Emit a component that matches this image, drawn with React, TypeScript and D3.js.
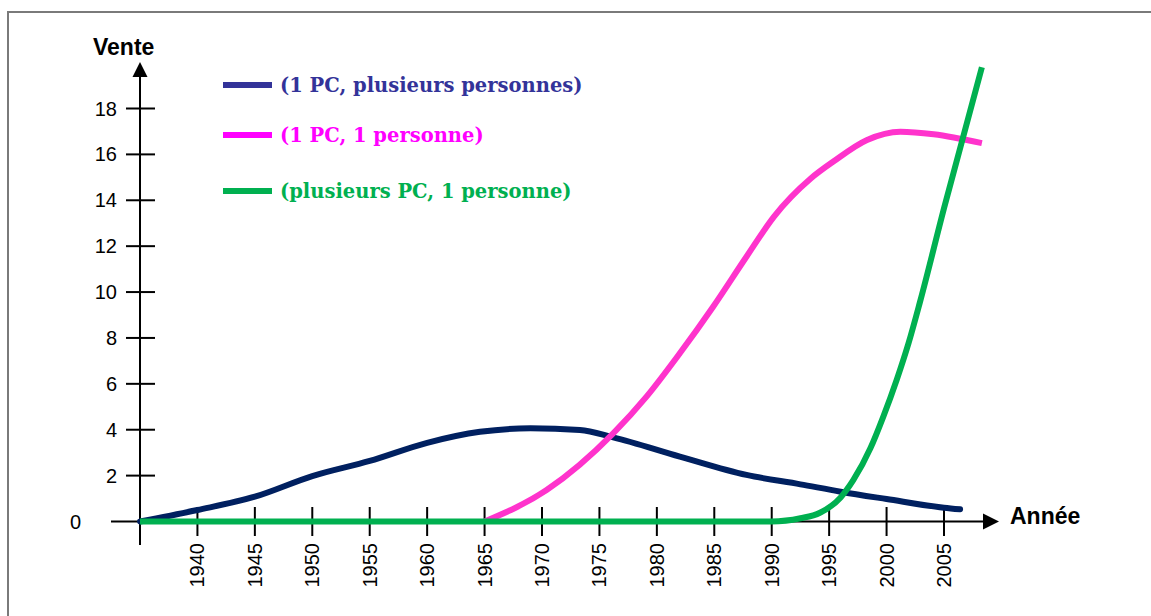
import * as d3 from "d3";

// axis ticks
const xTicks = [1940, 1945, 1950, 1955, 1960, 1965, 1970, 1975, 1980, 1985, 1990, 1995, 2000, 2005];
const yTicks = [2, 4, 6, 8, 10, 12, 14, 16, 18];

// 1 PC, plusieurs personnes
const navyYears = [1935, 1940, 1945, 1950, 1955, 1960, 1964.6, 1969, 1973.3, 1976.2, 1982, 1987.8, 1992.5, 1996, 2000, 2005, 2006.4];
const navyValues = [0, 0.5, 1.08, 1.98, 2.64, 3.43, 3.91, 4.06, 3.99, 3.67, 2.83, 2.03, 1.62, 1.3, 0.98, 0.6, 0.53];

// 1 PC, 1 personne
const pinkYears = [1965, 1970.4, 1976.2, 1979.1, 1982, 1984.9, 1987.8, 1990.2, 1993.4, 1995.4, 1998.3, 2001.2, 2004.1, 2008.3];
const pinkValues = [0, 1.37, 3.84, 5.44, 7.33, 9.36, 11.54, 13.29, 14.95, 15.7, 16.63, 16.99, 16.88, 16.49];

// plusieurs PC, 1 personne
const greenYears = [1935, 1990, 1992.5, 1994.2, 1996, 1997.1, 1998.6, 1999.7, 2000.9, 2001.9, 2002.9, 2005, 2008.3];
const greenValues = [0, 0, 0.14, 0.38, 1.05, 1.8, 3.2, 4.55, 6.2, 7.75, 9.55, 13.65, 19.8];

const legendLabels = ["(1 PC, plusieurs personnes)", "(1 PC, 1 personne)", "(plusieurs PC, 1 personne)"];
const legendColors = ["#333399", "#FF00FF", "#00B050"];

const W = 1151;
const H = 616;

export default function App() {
    const x = d3.scaleLinear().domain([1935, 2005]).range([140, 944]);
    const y = d3.scaleLinear().domain([0, 18]).range([521.5, 108.5]);

    const line = d3
        .line<[number, number]>()
        .x((d) => x(d[0]))
        .y((d) => y(d[1]))
        .curve(d3.curveMonotoneX);

    const zip = (a: number[], b: number[]) => a.map((v, i) => [v, b[i]] as [number, number]);

    const series = [
        { pts: zip(navyYears, navyValues), color: "#002060", cap: "round" },
        { pts: zip(pinkYears, pinkValues), color: "#FF33CC", cap: "butt" },
        { pts: zip(greenYears, greenValues), color: "#00B050", cap: "butt" },
    ];

    const x0 = x(1935);
    const y0 = y(0);
    const sans = "'Liberation Sans', Arial, sans-serif";

    return (
        <div style={{ position: "absolute", left: 0, top: 0 }}>
            <svg width={W} height={H} style={{ display: "block", background: "#fff" }}>
                <rect x={8} y={12} width={1160} height={620} fill="none" stroke="#7a7a7a" strokeWidth={2} />

                {/* axes */}
                <line x1={111} x2={985} y1={y0} y2={y0} stroke="#000" strokeWidth={2} />
                <path d={`M${983},${y0 - 8} L${999},${y0} L${983},${y0 + 8} Z`} fill="#000" />
                <line x1={x0} x2={x0} y1={545} y2={75} stroke="#000" strokeWidth={2} />
                <path d={`M${x0 - 7.5},${77} L${x0},${62} L${x0 + 7.5},${77} Z`} fill="#000" />

                {yTicks.map((t) => (
                    <g key={t}>
                        <line x1={126} x2={155} y1={y(t)} y2={y(t)} stroke="#000" strokeWidth={2} />
                        <text x={117} y={y(t)} dy="0.35em" textAnchor="end" fontFamily={sans} fontSize={20}>
                            {t}
                        </text>
                    </g>
                ))}
                <text x={81} y={y0} dy="0.35em" textAnchor="end" fontFamily={sans} fontSize={20}>
                    0
                </text>

                {xTicks.map((t) => (
                    <g key={t}>
                        <line x1={x(t)} x2={x(t)} y1={507} y2={536} stroke="#000" strokeWidth={2} />
                        <text
                            transform={`translate(${x(t)},543) rotate(-90)`}
                            dy="0.35em"
                            textAnchor="end"
                            fontFamily={sans}
                            fontSize={20}
                        >
                            {t}
                        </text>
                    </g>
                ))}

                <text x={93} y={55} fontFamily={sans} fontSize={23} fontWeight="bold">
                    Vente
                </text>
                <text x={1010} y={524} fontFamily={sans} fontSize={23} fontWeight="bold">
                    Année
                </text>

                {/* series */}
                {series.map((s, i) => (
                    <path
                        key={i}
                        d={line(s.pts) ?? ""}
                        fill="none"
                        stroke={s.color}
                        strokeWidth={6}
                        strokeLinecap={s.cap as any}
                        strokeLinejoin="round"
                    />
                ))}

                {/* legend */}
                {legendLabels.map((l, i) => {
                    const ly = [85, 135, 191][i];
                    return (
                        <g key={l}>
                            <line x1={223} x2={272} y1={ly} y2={ly} stroke={legendColors[i]} strokeWidth={6} />
                            <text
                                x={280}
                                y={ly + 7}
                                fill={legendColors[i]}
                                fontFamily="'DejaVu Serif', serif"
                                fontWeight="bold"
                                fontSize={19.5}
                            >
                                {l}
                            </text>
                        </g>
                    );
                })}
            </svg>
        </div>
    );
}
